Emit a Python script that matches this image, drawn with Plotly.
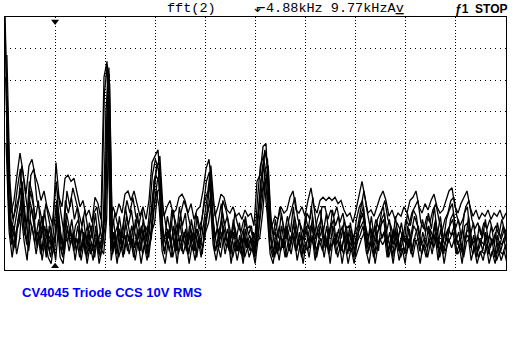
import numpy as np
import plotly.graph_objects as go

# ---- data ----
span_khz = 9.77          # full screen span, 0 .. 9.77 kHz (centre 4.88 kHz)
n_bins = 168
marker_khz = 0.977       # scope marker position

sweep_a = [2, -44, -62, -58, -50, -43, -49, -56, -47, -45, -50, -53, -58, -55, -60, -63, -66, -46, -57, -60,
           -51, -50, -52, -51, -55, -60, -58, -63, -61, -65, -57, -59, -64, -19, -14, -66, -60, -63, -59, -62,
           -56, -55, -58, -55, -59, -63, -60, -64, -58, -46, -44, -42, -55, -63, -60, -58, -62, -61, -57, -56,
           -58, -62, -59, -64, -61, -60, -55, -48, -45, -55, -63, -60, -56, -57, -61, -62, -60, -63, -62, -64,
           -61, -63, -62, -66, -52, -50, -41, -40, -61, -66, -63, -64, -60, -62, -61, -57, -55, -61, -62, -60,
           -63, -58, -54, -60, -62, -58, -57, -58, -57, -58, -57, -59, -58, -61, -63, -62, -65, -61, -56, -52,
           -57, -62, -61, -63, -60, -57, -55, -58, -63, -61, -64, -62, -63, -60, -62, -58, -57, -55, -60, -62,
           -59, -61, -58, -56, -60, -62, -61, -58, -55, -54, -60, -62, -59, -57, -55, -60, -63, -61, -64, -62,
           -63, -61, -64, -62, -63, -61, -64, -62]
sweep_b = [-7, -57, -68, -62, -54, -48, -60, -66, -52, -56, -64, -58, -70, -61, -68, -72, -62, -52, -66, -72,
           -58, -62, -57, -64, -60, -70, -63, -72, -65, -70, -62, -71, -66, -24, -15, -70, -64, -72, -63, -70,
           -60, -66, -61, -68, -62, -70, -64, -71, -62, -50, -45, -48, -64, -71, -63, -68, -61, -70, -60, -66,
           -62, -72, -64, -70, -63, -68, -60, -52, -49, -62, -70, -64, -59, -66, -63, -71, -64, -70, -65, -72,
           -63, -69, -66, -73, -58, -47, -44, -50, -68, -72, -64, -70, -62, -69, -63, -68, -60, -70, -64, -71,
           -63, -67, -60, -69, -64, -61, -68, -62, -70, -61, -66, -63, -70, -64, -71, -65, -72, -64, -60, -58,
           -66, -70, -63, -71, -64, -62, -60, -68, -64, -72, -63, -70, -65, -71, -62, -66, -61, -63, -70, -64,
           -68, -62, -67, -60, -69, -63, -71, -64, -61, -59, -67, -64, -70, -62, -60, -69, -65, -72, -66, -70,
           -64, -71, -66, -72, -65, -70, -66, -71]
sweep_c = [-19, -62, -72, -66, -60, -54, -66, -72, -58, -62, -70, -64, -74, -66, -72, -76, -67, -58, -72, -76,
           -64, -70, -64, -72, -66, -74, -68, -76, -69, -74, -66, -75, -70, -60, -19, -74, -68, -75, -67, -73,
           -65, -71, -66, -73, -67, -74, -68, -75, -66, -56, -50, -52, -70, -75, -67, -72, -66, -74, -65, -71,
           -67, -75, -68, -74, -67, -72, -65, -58, -53, -68, -74, -68, -64, -71, -67, -75, -68, -74, -69, -76,
           -67, -73, -70, -76, -64, -52, -47, -56, -72, -76, -68, -74, -66, -73, -67, -72, -65, -74, -68, -75,
           -67, -72, -65, -73, -68, -66, -72, -66, -74, -66, -71, -67, -74, -68, -75, -69, -76, -68, -65, -62,
           -70, -74, -67, -75, -68, -66, -64, -72, -68, -76, -67, -74, -69, -75, -66, -71, -66, -68, -74, -68,
           -72, -66, -71, -65, -73, -67, -75, -68, -66, -64, -71, -68, -74, -66, -65, -73, -69, -76, -70, -74,
           -68, -75, -70, -76, -69, -74, -70, -75]
sweep_d = [-40, -68, -76, -70, -64, -62, -71, -77, -64, -68, -75, -69, -77, -70, -76, -78, -70, -64, -76, -78,
           -68, -74, -69, -77, -70, -77, -71, -78, -72, -77, -70, -78, -73, -66, -22, -77, -71, -78, -70, -76,
           -69, -75, -70, -77, -71, -78, -72, -77, -70, -62, -55, -60, -74, -78, -71, -76, -70, -78, -69, -75,
           -71, -78, -72, -77, -70, -76, -69, -63, -58, -72, -77, -71, -68, -75, -70, -78, -71, -77, -72, -78,
           -70, -76, -73, -78, -70, -57, -52, -62, -75, -78, -71, -77, -70, -76, -71, -75, -69, -77, -72, -78,
           -71, -76, -69, -77, -72, -70, -76, -70, -78, -70, -75, -71, -78, -72, -78, -73, -78, -71, -69, -66,
           -74, -78, -71, -78, -72, -70, -68, -76, -72, -78, -71, -77, -73, -78, -70, -75, -70, -72, -78, -72,
           -76, -70, -75, -69, -77, -71, -78, -72, -70, -68, -75, -72, -78, -70, -69, -77, -73, -78, -74, -77,
           -72, -78, -74, -78, -73, -77, -74, -78]
sweep_e = [-30, -66, -70, -73, -63, -58, -69, -64, -55, -60, -72, -67, -63, -74, -69, -71, -75, -60, -69, -74,
           -62, -67, -72, -66, -64, -73, -69, -66, -75, -71, -68, -73, -69, -62, -17, -72, -69, -66, -74, -70,
           -63, -68, -73, -64, -70, -66, -72, -69, -64, -58, -47, -46, -67, -72, -69, -65, -73, -68, -63, -70,
           -74, -66, -71, -69, -73, -66, -70, -60, -50, -66, -72, -70, -62, -67, -73, -68, -66, -74, -70, -67,
           -73, -69, -71, -75, -62, -55, -43, -45, -70, -74, -70, -66, -73, -67, -71, -69, -63, -68, -73, -70,
           -66, -73, -63, -70, -66, -64, -70, -73, -67, -64, -72, -69, -66, -73, -70, -67, -74, -71, -63, -60,
           -69, -73, -70, -66, -74, -64, -62, -70, -73, -67, -70, -74, -68, -71, -73, -68, -63, -66, -71, -73,
           -66, -69, -72, -64, -70, -74, -68, -71, -64, -62, -70, -73, -67, -71, -63, -70, -74, -69, -72, -67,
           -73, -69, -72, -68, -74, -70, -67, -73]
sweep_f = [-12, -52, -64, -60, -57, -47, -55, -62, -50, -48, -58, -61, -66, -59, -64, -69, -71, -55, -62, -68,
           -55, -60, -54, -58, -63, -66, -61, -67, -70, -62, -60, -67, -72, -30, -16, -68, -62, -66, -70, -64,
           -58, -62, -57, -63, -66, -61, -68, -66, -70, -52, -48, -44, -60, -66, -70, -61, -64, -68, -62, -58,
           -61, -66, -70, -62, -67, -64, -58, -55, -47, -59, -66, -69, -58, -61, -66, -70, -62, -66, -68, -64,
           -67, -66, -70, -68, -60, -49, -42, -48, -64, -69, -66, -60, -65, -70, -64, -60, -57, -64, -66, -69,
           -62, -64, -57, -65, -70, -60, -60, -64, -61, -63, -60, -65, -62, -67, -66, -71, -68, -66, -61, -55,
           -61, -66, -69, -64, -67, -61, -58, -64, -66, -70, -65, -67, -70, -64, -66, -62, -60, -58, -65, -67,
           -63, -65, -61, -59, -64, -68, -64, -62, -58, -57, -63, -66, -64, -60, -58, -64, -67, -65, -69, -65,
           -67, -64, -68, -66, -69, -64, -68, -66]
sweep_g = [-25, -60, -74, -68, -65, -52, -63, -70, -60, -66, -73, -65, -69, -76, -66, -73, -70, -61, -70, -75,
           -66, -72, -68, -74, -69, -67, -75, -70, -66, -73, -71, -76, -68, -50, -18, -70, -73, -67, -71, -75,
           -68, -72, -66, -70, -74, -69, -66, -73, -70, -60, -52, -49, -71, -68, -74, -70, -67, -75, -71, -68,
           -72, -69, -74, -67, -71, -75, -64, -61, -55, -70, -67, -73, -66, -70, -74, -71, -67, -72, -75, -69,
           -71, -74, -68, -72, -66, -58, -48, -47, -66, -71, -75, -69, -72, -66, -74, -70, -67, -72, -69, -75,
           -70, -66, -68, -74, -70, -67, -73, -69, -65, -72, -68, -74, -71, -66, -73, -70, -72, -68, -66, -64,
           -72, -67, -73, -70, -66, -70, -67, -74, -69, -72, -68, -74, -70, -72, -67, -74, -69, -66, -72, -70,
           -73, -67, -70, -68, -74, -70, -72, -67, -69, -66, -72, -70, -75, -68, -67, -72, -70, -74, -71, -72,
           -69, -73, -70, -75, -71, -72, -69, -74]
sweep_h = [-50, -70, -66, -75, -70, -57, -68, -74, -66, -71, -68, -75, -72, -67, -74, -70, -77, -66, -74, -70,
           -71, -67, -74, -70, -76, -72, -68, -74, -71, -76, -69, -73, -75, -64, -21, -75, -70, -76, -72, -69,
           -74, -70, -76, -72, -67, -75, -71, -76, -68, -65, -55, -54, -74, -71, -67, -76, -72, -70, -74, -68,
           -75, -72, -68, -76, -70, -73, -68, -65, -58, -74, -72, -76, -70, -73, -68, -76, -72, -74, -70, -76,
           -73, -70, -75, -71, -70, -62, -51, -54, -73, -76, -71, -74, -70, -76, -72, -69, -74, -71, -76, -72,
           -74, -70, -72, -76, -71, -74, -69, -75, -72, -70, -76, -72, -75, -70, -74, -71, -76, -73, -70, -68,
           -75, -71, -76, -73, -70, -72, -70, -76, -72, -74, -70, -76, -73, -75, -70, -76, -71, -70, -75, -72,
           -76, -71, -73, -70, -76, -72, -74, -70, -73, -70, -75, -73, -76, -71, -70, -75, -72, -76, -74, -75,
           -72, -76, -73, -77, -74, -75, -72, -76]
sweeps = [sweep_a, sweep_b, sweep_c, sweep_d, sweep_e, sweep_f, sweep_g, sweep_h]

y_min_db, y_max_db = -80, 0

header_mid = "fft(2)"
header_freq = "\u2B10" + "4.88kHz 9.77kHzA<u>v</u>"
header_right = "<b>\u01921  STOP</b>"
caption = "<b>CV4045 Triode CCS 10V RMS</b>"

# ---- figure ----
W, H = 522, 360
L, R, T, B = 5, 16, 17, 90
bin_khz = span_khz / (n_bins - 1)

fig = go.Figure()
for k, s in enumerate(sweeps):
    freqs = np.arange(len(s)) * bin_khz + k * bin_khz / len(sweeps)
    fig.add_trace(go.Scatter(x=freqs, y=s, mode="lines", line=dict(color="black", width=1.3),
                             hoverinfo="skip", showlegend=False))

fig.add_trace(go.Scatter(x=[marker_khz, marker_khz], y=[y_max_db - 1.4, y_min_db + 1.2], mode="markers",
                         marker=dict(symbol=["triangle-down", "triangle-up"], size=7, color="black"),
                         cliponaxis=False, hoverinfo="skip", showlegend=False))

div_x = span_khz / 10
fig.update_layout(
    width=W, height=H, margin=dict(l=L, r=R, t=T, b=B),
    paper_bgcolor="white", plot_bgcolor="white",
    xaxis=dict(range=[0, span_khz], tick0=0, dtick=div_x, showgrid=True, gridcolor="black", gridwidth=1,
               griddash="1px,2.13px", zeroline=False, showticklabels=False, ticks="",
               showline=True, linecolor="black", linewidth=1, mirror=True),
    yaxis=dict(range=[y_min_db, y_max_db], tick0=0, dtick=10, showgrid=True, gridcolor="black", gridwidth=1,
               griddash="1px,4px", zeroline=False, showticklabels=False, ticks="",
               showline=True, linecolor="black", linewidth=1, mirror=True),
    # centre cross tick marks
    xaxis2=dict(overlaying="x", range=[0, span_khz], anchor="free", position=0.5, showgrid=False,
                showline=False, zeroline=False, showticklabels=False, ticks="outside", ticklen=2,
                tick0=0, dtick=div_x / 5, tickcolor="black", tickwidth=1),
    xaxis3=dict(overlaying="x", range=[0, span_khz], anchor="free", position=0.5, showgrid=False,
                showline=False, zeroline=False, showticklabels=False, ticks="inside", ticklen=2,
                tick0=0, dtick=div_x / 5, tickcolor="black", tickwidth=1),
    yaxis2=dict(overlaying="y", range=[y_min_db, y_max_db], anchor="free", position=0.5, showgrid=False,
                showline=False, zeroline=False, showticklabels=False, ticks="outside", ticklen=4,
                tick0=0, dtick=10, tickcolor="black", tickwidth=1,
                minor=dict(ticks="outside", ticklen=2, dtick=2, tickcolor="black")),
    yaxis3=dict(overlaying="y", range=[y_min_db, y_max_db], anchor="free", position=0.5, showgrid=False,
                showline=False, zeroline=False, showticklabels=False, ticks="inside", ticklen=4,
                tick0=0, dtick=10, tickcolor="black", tickwidth=1,
                minor=dict(ticks="inside", ticklen=2, dtick=2, tickcolor="black")),
)

pw, ph = W - L - R, H - T - B
def px(x): return (x - L) / pw
def py(y): return (H - B - y) / ph

mono = dict(family="Liberation Mono, DejaVu Sans Mono, monospace", size=13.5, color="black")
fig.add_annotation(text=header_mid, x=px(165), y=py(9), xref="paper", yref="paper",
                   xanchor="left", yanchor="middle", showarrow=False, font=mono)
fig.add_annotation(text=header_freq, x=px(252), y=py(9), xref="paper", yref="paper",
                   xanchor="left", yanchor="middle", showarrow=False, font=mono)
fig.add_annotation(text=header_right, x=px(509), y=py(9), xref="paper", yref="paper",
                   xanchor="right", yanchor="middle", showarrow=False,
                   font=dict(family="Liberation Sans, Arial, sans-serif", size=12, color="black"))
fig.add_annotation(text=caption, x=px(20), y=py(292), xref="paper", yref="paper",
                   xanchor="left", yanchor="middle", showarrow=False,
                   font=dict(family="Liberation Sans, Arial, sans-serif", size=13, color="#0000ff"))

fig.write_html("out.html")
